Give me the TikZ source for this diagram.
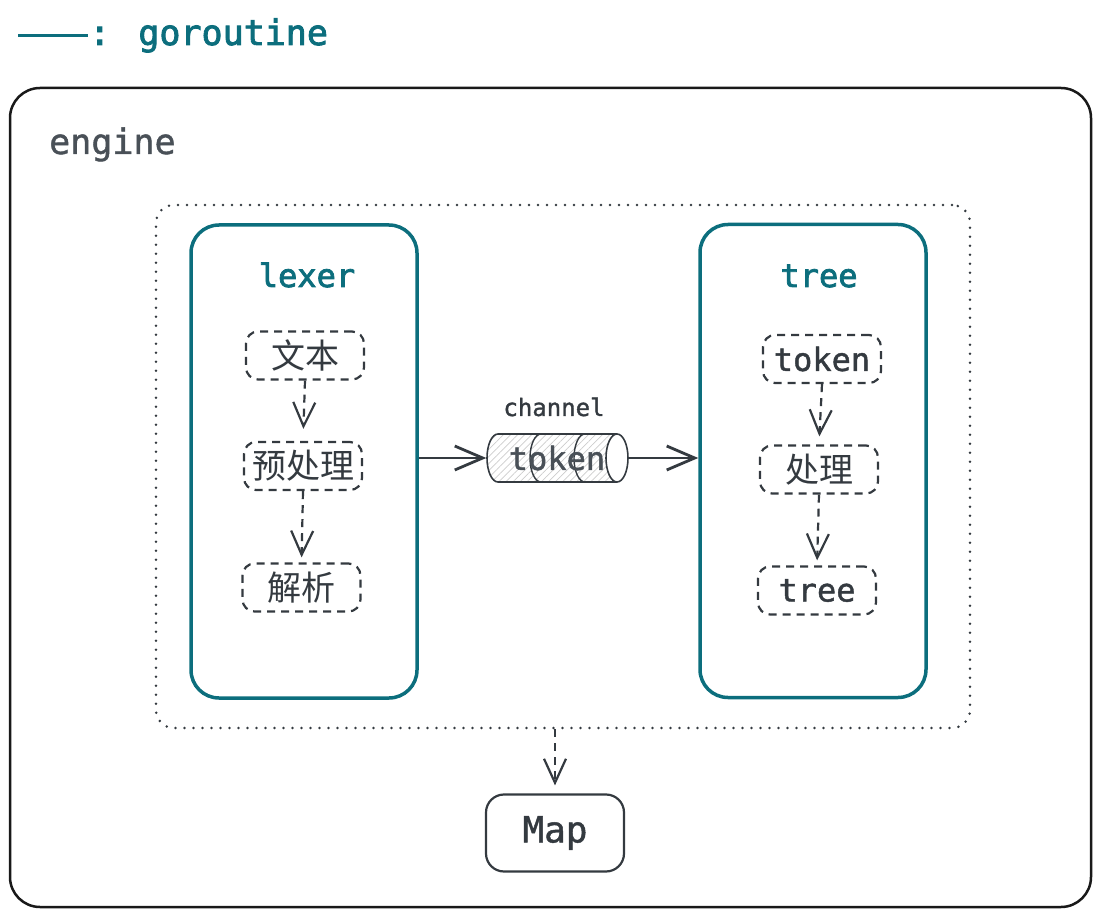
\documentclass[tikz,border=0pt]{standalone}
\usepackage{fontspec}
\setmonofont{DejaVu Sans Mono}
\newfontfamily\monomed[FakeBold=1.3]{DejaVu Sans Mono}
\newfontfamily\monosemi[FakeBold=2.4]{DejaVu Sans Mono}
\newfontfamily\cjk{Noto Sans CJK SC}
\usetikzlibrary{arrows.meta,patterns.meta}
\definecolor{teal1}{RGB}{12,110,125}
\definecolor{ink}{RGB}{52,58,64}
\definecolor{greytext}{RGB}{73,80,87}
\begin{document}
\begin{tikzpicture}[x=1pt,y=-1pt,
  tealbox/.style={draw=teal1, line width=3.5pt, rounded corners=28pt, minimum width=226pt, minimum height=473pt, inner sep=0pt},
  titletext/.style={text=teal1, font=\monosemi\fontsize{32}{38}\selectfont, anchor=base},
  dbox/.style={draw=ink, dash pattern=on 8pt off 6pt, line width=2.2pt, rounded corners=12pt, minimum width=118pt, minimum height=48pt, text=ink, inner sep=0pt},
  monotext/.style={font=\monomed\fontsize{32}{38}\selectfont},
  cjktext/.style={font=\cjk\fontsize{34}{40}\selectfont},
  darr/.style={draw=ink, line width=2.2pt, dash pattern=on 8pt off 6pt, -{Straight Barb[length=24pt,width=22pt]}},
  sarr/.style={draw=ink, line width=2.8pt, -{Straight Barb[length=28pt,width=24pt]}},
]
\useasboundingbox (0,0) rectangle (1101,917);
% legend
\coordinate (l1) at (18,36);
\coordinate (l2) at (88,36);
\draw[teal1, line width=3pt] (l1) -- (l2);
\node[anchor=base west, inner sep=0pt, text=teal1, font=\monosemi\fontsize{35}{40}\selectfont] (legend) at (89,45) {: goroutine};
% engine
\node[draw=black!90, line width=2.5pt, rounded corners=30pt, minimum width=1081pt, minimum height=819pt, inner sep=0pt] (engine) at (550.5,497.5) {};
\node[anchor=base west, inner sep=0pt, text=greytext, font=\monomed\fontsize{35}{40}\selectfont] (enginelabel) at (49,154) {engine};
% dotted group
\node[draw=ink, line width=2.8pt, line cap=round, dash pattern=on 0pt off 9pt, rounded corners=18pt, minimum width=814pt, minimum height=523pt, inner sep=0pt] (group) at (563,466.5) {};
% lexer
\node[tealbox] (lexer) at (304,461.5) {};
\node[titletext] (lexertitle) at (307,287) {lexer};
\node[dbox, cjktext] (wb) at (305,355.5) {文本};
\node[dbox, cjktext] (ycl) at (303,466) {预处理};
\node[dbox, cjktext] (jx) at (301.5,587.5) {解析};
\draw[darr, shorten >=12pt] (wb.south) -- (ycl.north);
\draw[darr, shorten >=5pt] (ycl.south) -- (jx.north);
% tree
\node[tealbox] (tree) at (813,461) {};
\node[titletext] (treetitle) at (819,287) {tree};
\node[dbox, monotext] (tok) at (822,359) {token};
\node[dbox, cjktext] (cl) at (819,469.5) {处理};
\node[dbox, monotext] (tr) at (817,590.5) {tree};
\draw[darr, shorten >=8pt] (tok.south) -- (cl.north);
\draw[darr, shorten >=5pt] (cl.south) -- (tr.north);
% channel cylinder
\fill[pattern={Lines[angle=45,distance=5pt,line width=0.7pt]}, pattern color=black!20]
  (617,434) -- (498,434) arc[start angle=270, end angle=90, x radius=11, y radius=24]
  -- (617,482) arc[start angle=90, end angle=270, x radius=11, y radius=24] -- cycle;
\draw[ink, line width=1.6pt]
  (617,434) -- (498,434) arc[start angle=270, end angle=90, x radius=11, y radius=24]
  -- (617,482);
\draw[ink, line width=1.6pt] (617,458) ellipse[x radius=11, y radius=24];
\draw[ink, line width=1.4pt] (541,434) arc[start angle=270, end angle=90, x radius=11, y radius=24];
\draw[ink, line width=1.4pt] (585,434) arc[start angle=270, end angle=90, x radius=11, y radius=24];
\node[monotext, text=greytext, minimum width=141pt, minimum height=48pt, inner sep=0pt] (chan) at (557,458) {token};
\node[anchor=base, inner sep=0pt, text=ink, font=\monomed\fontsize{24}{28}\selectfont] (chanlabel) at (554,416) {channel};
\draw[sarr] (lexer.east |- chan.west) -- (chan.west);
\draw[sarr] (chan.east) -- (tree.west |- chan.east);
% map
\node[draw=ink, line width=2.2pt, rounded corners=18pt, minimum width=138pt, minimum height=77pt, inner sep=0pt, text=ink, font=\monomed\fontsize{36}{40}\selectfont] (map) at (555,833) {Map};
\draw[darr, shorten >=8pt] (group.south -| map.north) -- (map.north);
\end{tikzpicture}
\end{document}
